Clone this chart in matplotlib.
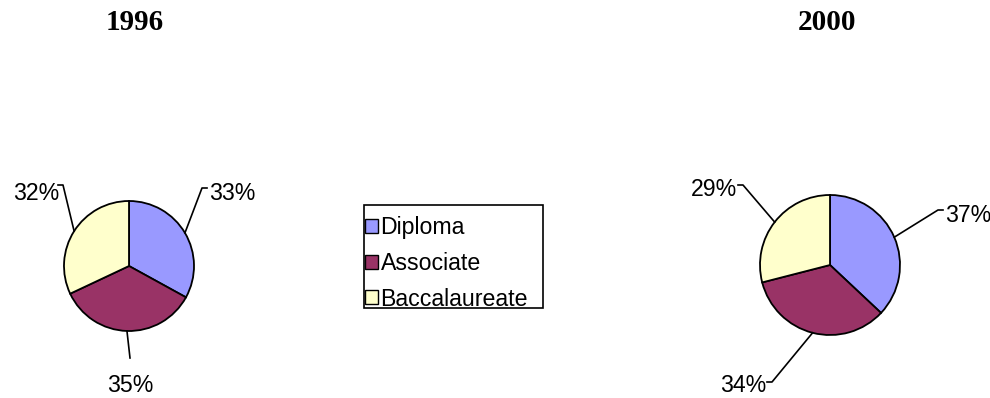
import numpy as np
import matplotlib
matplotlib.use("Agg")
import matplotlib.pyplot as plt
from matplotlib.patches import Patch, Rectangle

categories = ["Diploma", "Associate", "Baccalaureate"]
values_1996 = [33, 35, 32]
values_2000 = [37, 34, 29]
years = ["1996", "2000"]
colors = ["#9999FF", "#993366", "#FFFFCC"]

W, H = 990, 398
fig = plt.figure(figsize=(W / 100, H / 100), dpi=100)
fig.patch.set_facecolor("white")
FS = 16.7

def add_pie(cx, cy, r, values, label_pts, title, tx):
    ax = fig.add_axes([(cx - r) / W, (H - cy - r) / H, 2 * r / W, 2 * r / H])
    wedges, _ = ax.pie(values, colors=colors, startangle=90, counterclock=False,
                       radius=1, wedgeprops=dict(edgecolor="black", linewidth=1.3))
    ax.set_xlim(-1, 1)
    ax.set_ylim(-1, 1)
    ax.set_aspect("auto")
    ax.axis("off")
    total = sum(values)
    start = 90.0
    for v, (ex, ey, side, lx, ly) in zip(values, label_pts):
        ang = start - v / total * 360 / 2
        start -= v / total * 360
        a = np.deg2rad(ang)
        x0, y0 = np.cos(a), np.sin(a)
        x1, y1 = ex / r, -ey / r
        x2 = x1 + side * 5 / r
        ax.plot([x0, x1, x2], [y0, y1, y1], color="black", lw=1.2, clip_on=False)
        ha = "left" if side > 0 else ("right" if side < 0 else "center")
        ax.text(lx / r, -ly / r, f"{v}%", ha=ha, va="center", fontsize=FS,
                family="Liberation Sans", clip_on=False)
    fig.text(tx / W, 1 - 22 / H, title, ha="center", va="center", fontsize=21,
             fontweight="bold", family="Liberation Serif")
    return ax

# label geometry: (elbow dx, elbow dy, side, text x, text y) in pixels from center
add_pie(129, 266, 65, values_1996,
        [(73, -78, 1, 80, -72),
         (1, 92, 0, 1, 120),
         (-66, -81, -1, -70, -73)],
        years[0], 135)
add_pie(830, 265, 70, values_2000,
        [(108, -55, 1, 115, -49),
         (-58, 117, -1, -64, 121),
         (-87, -80, -1, -93, -76)],
        years[1], 827)

# legend frame
fig.add_artist(Rectangle((364 / W, 1 - 308 / H), (543 - 364) / W, (308 - 205) / H,
                         transform=fig.transFigure, facecolor="white",
                         edgecolor="black", linewidth=1.2, zorder=1))
handles = [Patch(facecolor=c, edgecolor="black", linewidth=1) for c in colors]
leg = fig.legend(handles, categories, loc="upper left",
                 bbox_to_anchor=(365 / W, 1 - 216 / H),
                 prop=dict(family="Liberation Sans", size=FS),
                 frameon=False,
                 handlelength=0.55, handleheight=0.55, handletextpad=0.12,
                 labelspacing=0.55, borderpad=0.0, borderaxespad=0)
leg.set_zorder(2)

fig.savefig("out.png", dpi=100, facecolor="white")
